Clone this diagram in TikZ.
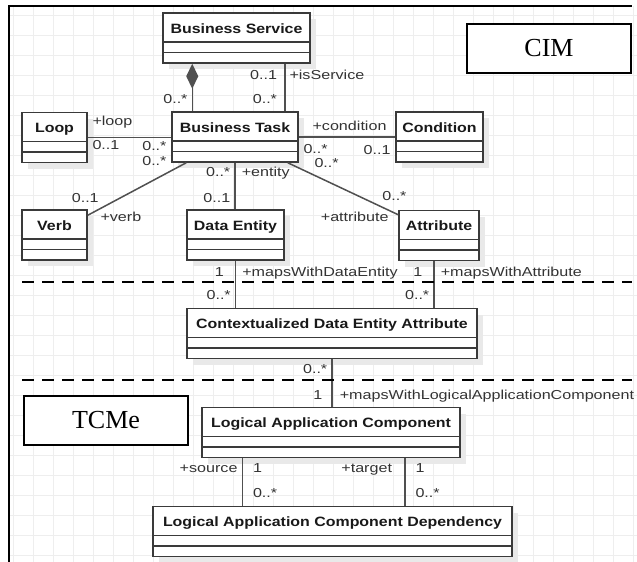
\documentclass[tikz,border=0pt]{standalone}
\usepackage{fontspec}
\usetikzlibrary{arrows.meta}
\usetikzlibrary{shadows}
\newfontfamily\lblfont[FakeStretch=1.24]{Liberation Sans}
\newfontfamily\ttlfont[FakeStretch=1.18]{Liberation Sans}
\newfontfamily\tagfont{Liberation Serif}
\definecolor{boxc}{HTML}{3A3A3A}
\definecolor{wirec}{HTML}{505050}
\definecolor{lblc}{HTML}{333333}
\definecolor{gridc}{HTML}{EEEEEE}
\definecolor{shadc}{HTML}{E9E9E9}

\tikzset{
  umlclass/.style={draw=boxc, line width=1.5pt, fill=white,
    font=\fontsize{13.5pt}{16pt}\ttlfont\bfseries, text=black!90,
    inner xsep=3pt, inner ysep=0pt, text height=20pt, text depth=30pt,
    general shadow={fill=shadc, shadow xshift=6pt, shadow yshift=-6pt},
    path picture={
      \draw[boxc, line width=1.5pt]
        ([yshift=21pt]path picture bounding box.south west) -- ([yshift=21pt]path picture bounding box.south east)
        ([yshift=10.5pt]path picture bounding box.south west) -- ([yshift=10.5pt]path picture bounding box.south east);
    }},
  modeltag/.style={draw=black, line width=1.2pt, fill=white,
    font=\fontsize{26pt}{30pt}\tagfont,
    minimum width=164pt, minimum height=49pt, inner sep=0pt},
  wire/.style={draw=wirec, line width=1.5pt},
  lbl/.style={font=\fontsize{13pt}{15pt}\lblfont, text=lblc, inner sep=0pt},
  lw/.style={lbl, anchor=base west, xshift=4pt},
  le/.style={lbl, anchor=base east, xshift=-4pt},
  sepline/.style={line width=2.2pt, dash pattern=on 12pt off 8pt},
}

\begin{document}
\begin{tikzpicture}[x=1pt, y=-1pt]
  \useasboundingbox (0,0) rectangle (637,562);
  % background grid and frame
  \foreach \gx in {13,33,...,633} \draw[gridc, line width=0.6pt] (\gx,6) -- (\gx,562);
  \foreach \gy in {15,35,...,555} \draw[gridc, line width=0.6pt] (9,\gy) -- (637,\gy);
  \draw[line width=2.4pt] (9,562) -- (9,6) -- (632,6);

  % CIM level
  \node[umlclass, minimum width=147pt] (bs) at (236.5,38) {Business Service};
  \node[umlclass, minimum width=126pt] (bt) at (235,137) {Business Task};
  \node[umlclass, minimum width=65pt] (loop) at (54.5,137.5) {Loop};
  \node[umlclass, minimum width=87pt] (cond) at (439.5,137) {Condition};
  \node[umlclass, minimum width=65pt] (verb) at (54.5,235) {Verb};
  \node[umlclass, minimum width=97pt] (de) at (235.5,235) {Data Entity};
  \node[umlclass, minimum width=80pt] (attr) at (439,235.5) {Attribute};
  \node[modeltag] (cim) at (549,48.5) {CIM};

  % mapping level
  \node[umlclass, minimum width=290pt] (cdea) at (332,333.5) {Contextualized Data Entity Attribute};

  % TCMe level
  \node[umlclass, minimum width=258pt] (lac) at (331,432.5) {Logical Application Component};
  \node[umlclass, minimum width=359pt] (lacd) at (332.5,531.5) {Logical Application Component Dependency};
  \node[modeltag] (tcme) at (106,420.5) {TCMe};

  % associations
  \draw[wire, {Diamond[length=25pt,width=12pt]}-] ([xshift=30pt]bs.south west) coordinate (bsc) -- (bsc |- bt.north)
    node[le, pos=.84] {0..*};
  \draw[wire] ([xshift=-26pt]bs.south east) coordinate (bsi) -- (bsi |- bt.north)
    node[le, pos=.33, xshift=-3pt] {0..1} node[lw, pos=.33] {+isService} node[le, pos=.84, xshift=-3pt] {0..*};
  \draw[wire] (loop.east) -- (loop.east -| bt.west)
    node[lw, pos=0, yshift=12.5pt] {+loop} node[lw, pos=0, yshift=-11.5pt] {0..1}
    node[le, pos=1, yshift=-12.5pt] {0..*};
  \draw[wire] (bt.east) -- (bt.east -| cond.west)
    node[le, pos=1, xshift=-4pt, yshift=7pt] {+condition} node[lw, pos=0, yshift=-16pt] {0..*}
    node[le, pos=1, yshift=-17pt] {0..1};
  \draw[wire] ([xshift=15pt]bt.south west) -- ([yshift=-6pt]verb.north east)
    node[lbl, pos=0, anchor=base east, xshift=-19pt, yshift=-3pt] {0..*}
    node[lbl, pos=1, anchor=base, xshift=-2.5pt, yshift=13pt] {0..1}
    node[lbl, pos=1, anchor=base west, xshift=12pt, yshift=-6pt] {+verb};
  \draw[wire] (bt.south) -- (bt.south |- de.north)
    node[le, pos=.29] {0..*} node[lw, pos=.29, xshift=2pt] {+entity} node[le, pos=.85] {0..1};
  \draw[wire] ([xshift=-11pt]bt.south east) -- ([yshift=-5pt]attr.north west)
    node[lbl, pos=0, anchor=base west, xshift=26pt, yshift=-5pt] {0..*}
    node[lbl, pos=1, anchor=base east, xshift=9pt, yshift=14pt] {0..*}
    node[lbl, pos=1, anchor=base east, xshift=-9pt, yshift=-7pt] {+attribute};

  % mappings
  \draw[wire] (de.south) -- (de.south |- cdea.north)
    node[le, pos=.33, xshift=-7pt] {1} node[lw, pos=.33, xshift=2pt] {+mapsWithDataEntity}
    node[le, pos=.82] {0..*};
  \draw[wire] ([xshift=-5pt]attr.south) coordinate (atm) -- (atm |- cdea.north)
    node[le, pos=.33, xshift=-7pt] {1} node[lw, pos=.33, xshift=2pt] {+mapsWithAttribute}
    node[le, pos=.82] {0..*};
  \draw[wire] (cdea.south) -- (cdea.south |- lac.north)
    node[le, pos=.3] {0..*} node[le, pos=.84, xshift=-5pt] {1}
    node[lw, pos=.84, xshift=3pt] {+mapsWithLogicalApplicationComponent};

  % dependencies
  \draw[wire] ([xshift=41pt]lac.south west) coordinate (lsrc) -- (lsrc |- lacd.north)
    node[le, pos=.3] {+source} node[lw, pos=.3, xshift=6pt] {1} node[lw, pos=.83, xshift=6pt] {0..*};
  \draw[wire] ([xshift=-56pt]lac.south east) coordinate (ltgt) -- (ltgt |- lacd.north)
    node[le, pos=.3, xshift=-8pt] {+target} node[lw, pos=.3, xshift=6pt] {1} node[lw, pos=.83, xshift=6pt] {0..*};

  % level separators
  \draw[sepline] (22,282) -- (632,282);
  \draw[sepline] (22,380) -- (632,380);
\end{tikzpicture}
\end{document}
